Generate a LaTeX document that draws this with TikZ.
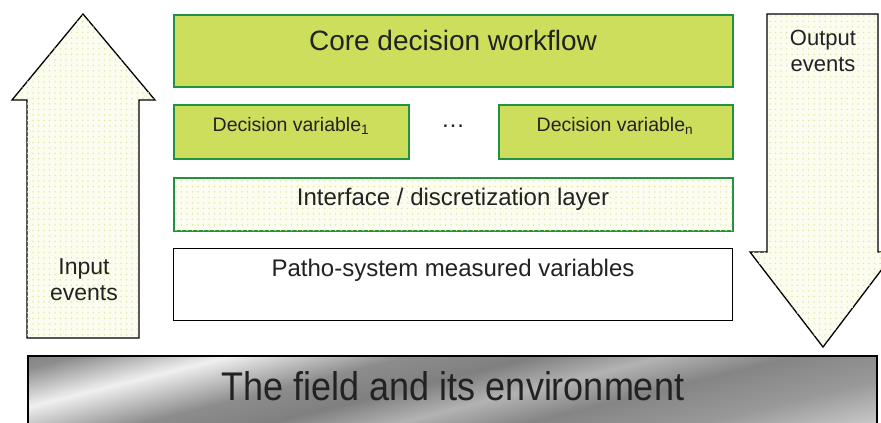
\documentclass[tikz,border=0pt]{standalone}
\usepackage{fontspec}
\setmainfont{Liberation Sans}
\newfontfamily\narrowfont[FakeStretch=0.9]{Liberation Sans}
\usetikzlibrary{patterns.meta}

\definecolor{leafgreen}{RGB}{205,221,92}
\definecolor{edgegreen}{RGB}{32,146,66}
\definecolor{dotgreen}{RGB}{214,230,140}
\definecolor{paleback}{RGB}{252,253,240}
\definecolor{inktext}{RGB}{34,34,34}

% bands of the field box, bottom (0bp) to top (100bp)
\pgfdeclareverticalshading{fieldshade}{100bp}{%
  color(0bp)=(black!12); color(25bp)=(black!12);
  color(35bp)=(black!40); color(42bp)=(black!48);
  color(47bp)=(black!30); color(52bp)=(black!50);
  color(57bp)=(black!45); color(64bp)=(black!6);
  color(70bp)=(black!45); color(75bp)=(black!52);
  color(100bp)=(black!52)}

\tikzset{
  dotfill/.style={fill=paleback,
    postaction={pattern={Dots[distance=5.5pt,radius=0.75pt]},
                pattern color=dotgreen}},
  decision/.style={draw=edgegreen, line width=1.5pt, fill=leafgreen,
    anchor=north west, inner sep=0pt},
  layerbox/.style={draw=edgegreen, line width=1.5pt, dotfill,
    anchor=north west, inner sep=0pt},
  eventarrow/.style={draw=black, line width=1.3pt, dotfill},
  label/.style={text=inktext, inner sep=0pt, align=center}
}

\begin{document}
\begin{tikzpicture}[x=1pt,y=-1pt]
\useasboundingbox (0,0) rectangle (881,423);

% input and output arrows
\path[eventarrow] (27,338) -- (27,100) -- (12,100) -- (83,14)
              -- (155,100) -- (139,100) -- (139,338) -- cycle;
\path[eventarrow] (767,14) -- (878,14) -- (878,252) -- (895,252)
              -- (823,347) -- (750,252) -- (767,252) -- cycle;
\node[label, font=\fontsize{23}{26}\selectfont] (input) at (84,280)
     {Input\\events};
\node[label, font=\fontsize{22}{26}\selectfont] (output) at (823,51)
     {Output\\events};

% decision layers
\node[decision, minimum width=559pt, minimum height=72pt]
     (core) at (173,14) {};
\node[label, font=\fontsize{28}{30}\selectfont] (coretext) at (453,40)
     {Core decision workflow};
\node[decision, minimum width=235pt, minimum height=54pt]
     (var1) at (173,104) {};
\node[label, font=\fontsize{19.5}{22}\selectfont] at (291,126)
     {Decision variable\textsubscript{1}};
\node[label, font=\fontsize{24}{24}\selectfont] (dots) at (453,126)
     {\dots};
\node[decision, minimum width=234pt, minimum height=54pt]
     (varn) at (498,104) {};
\node[label, font=\fontsize{19.5}{22}\selectfont] at (615,126)
     {Decision variable\textsubscript{n}};
\node[layerbox, minimum width=559pt, minimum height=53pt]
     (iface) at (173,177) {};
\node[label, font=\fontsize{24}{26}\selectfont] at (453,199)
     {Interface / discretization layer};
\node[draw=black, line width=1.3pt, fill=white, anchor=north west,
      minimum width=559pt, minimum height=72pt] (patho) at (173,248) {};
\node[label, font=\fontsize{24}{26}\selectfont] at (453,270)
     {Patho-system measured variables};

% the field
\begin{scope}
  \clip (28,356) rectangle (877,430);
  \begin{scope}[transform canvas={rotate around={14:(453,390)}}]
    \shade[shading=fieldshade] (13,235) rectangle (893,545);
  \end{scope}
\end{scope}
\draw[line width=1.3pt] (28,356) rectangle (877,430);
\node[label, font=\narrowfont\fontsize{40}{40}\selectfont] (field)
     at (453,386) {The field and its environment};
\end{tikzpicture}
\end{document}
